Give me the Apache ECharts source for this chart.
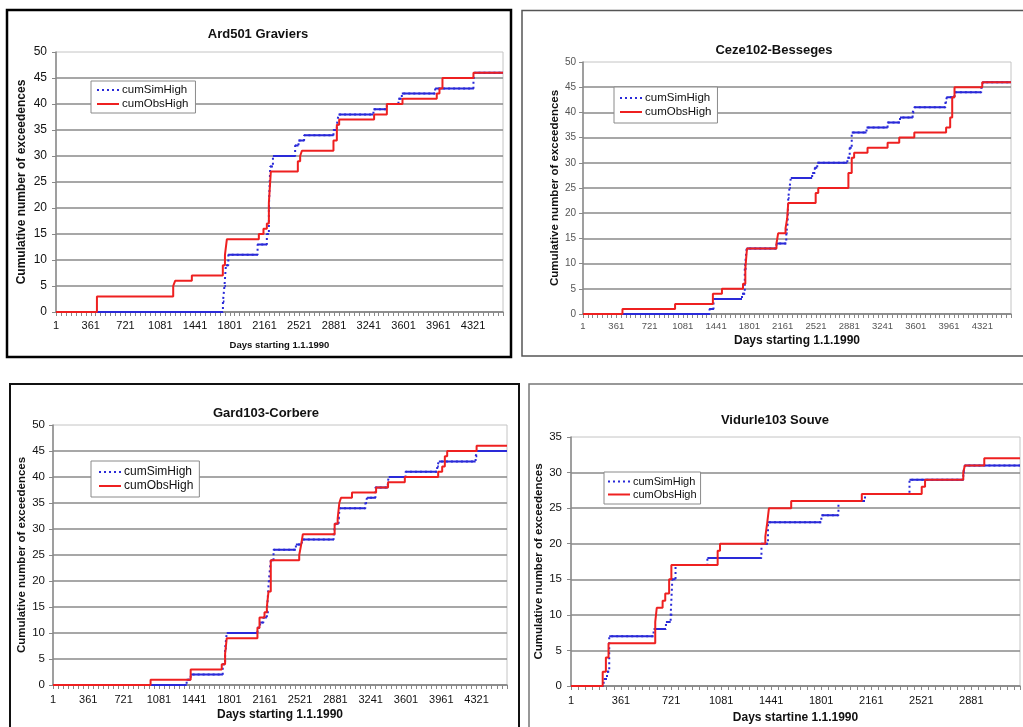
<!DOCTYPE html>
<html>
<head>
<meta charset="utf-8">
<script src="https://cdn.jsdelivr.net/npm/echarts@6/dist/echarts.min.js"></script>
<style>
html,body{margin:0;padding:0;background:#fff;overflow:hidden;}
#c{width:1023px;height:727px;}
</style>
</head>
<body>
<div id="c"></div>
<script>
// ---------- data (x = days since 1.1.1990, 0-based; y = cumulative count) ----------
const titles = ['Ard501 Graviers', 'Ceze102-Besseges', 'Gard103-Corbere', 'Vidurle103 Souve'];
const xNames = ['Days starting 1.1.1990', 'Days starting 1.1.1990', 'Days starting 1.1.1990', 'Days startine 1.1.1990'];
const yName = 'Cumulative number of exceedences';
const seriesNames = ['cumSimHigh', 'cumObsHigh'];
const xMax = [4630, 4630, 4630, 3230];
const yMax = [50, 50, 50, 35];
const xTickStep = 360;
const yTickStep = 5;

const ardSim = [[0,0],[1729,2],[1745,5],[1760,9],[1785,11],[2088,13],[2184,15],[2205,20],[2219,28],[2247,30],[2477,32],[2512,33],[2570,34],[2874,35],[2909,36],[2926,38],[3288,39],[3427,40],[3547,41],[3582,42],[3927,43],[4324,45],[4335,46],[4630,46]];
const ardObs = [[0,0],[424,3],[1214,5],[1234,6],[1407,7],[1728,9],[1750,11],[1770,14],[2101,15],[2149,16],[2184,17],[2205,21],[2225,27],[2505,29],[2529,30],[2547,31],[2874,33],[2909,36],[2933,37],[3295,38],[3427,40],[3589,41],[3944,42],[3972,43],[4003,45],[4324,46],[4630,46]];

const cezeSim = [[0,0],[1369,1],[1412,3],[1720,4],[1750,9],[1770,13],[2093,14],[2199,16],[2213,18],[2220,23],[2234,25],[2248,27],[2479,28],[2508,29],[2534,30],[2860,31],[2885,33],[2907,36],[3067,37],[3295,38],[3429,39],[3566,40],[3584,41],[3921,42],[3936,43],[4019,44],[4309,45],[4327,46],[4630,46]];
const cezeObs = [[0,0],[427,1],[996,2],[1405,4],[1503,5],[1731,6],[1756,9],[1774,13],[2093,14],[2111,16],[2191,17],[2209,19],[2220,22],[2517,24],[2545,25],[2871,28],[2907,31],[2933,32],[3078,33],[3295,34],[3421,35],[3584,36],[3928,37],[3972,39],[3994,43],[4019,45],[4319,46],[4630,46]];

const gardSim = [[0,0],[1363,1],[1404,2],[1731,4],[1755,7],[1772,10],[2085,11],[2112,12],[2146,13],[2181,14],[2201,20],[2221,24],[2249,26],[2477,27],[2538,28],[2862,29],[2879,31],[2913,32],[2923,34],[3186,35],[3203,36],[3288,38],[3414,39],[3424,40],[3595,41],[3918,42],[3935,43],[4310,44],[4327,45],[4630,45]];
const gardObs = [[0,0],[995,1],[1404,3],[1721,4],[1755,6],[1772,9],[2085,11],[2106,13],[2157,14],[2181,15],[2198,18],[2221,24],[2511,25],[2531,27],[2548,29],[2872,31],[2903,32],[2920,35],[2937,36],[3049,37],[3295,38],[3417,39],[3588,40],[3928,41],[3969,42],[3996,44],[4020,45],[4320,46],[4630,46]];

const vidSim = [[0,0],[235,1],[259,2],[275,7],[594,8],[683,9],[717,10],[729,15],[752,17],[981,18],[1370,20],[1417,23],[1801,24],[1924,26],[2115,27],[2435,29],[2822,30],[2833,31],[3230,31]];
const vidObs = [[0,0],[228,2],[251,4],[270,6],[606,9],[617,11],[659,12],[678,13],[706,15],[722,17],[1055,19],[1072,20],[1398,21],[1412,23],[1424,25],[1584,26],[2092,27],[2523,28],[2547,29],[2822,30],[2833,31],[2973,32],[3230,32]];

const simData = [ardSim, cezeSim, gardSim, vidSim];
const obsData = [ardObs, cezeObs, gardObs, vidObs];

// ---------- layout / style ----------
const FONT = '"Liberation Sans", Arial, sans-serif';
const BLUE = '#2a2ad8';
const RED = '#ee2020';
const panels = [
  {grid:{left:56, top:52, width:447, height:260}, title:[258,36], tFont:13,
   yLab:{size:12,color:'#111',margin:9}, xLab:{size:11,color:'#111',margin:8},
   yNameSize:12, yGap:28, xNameSize:9.5, xGap:28,
   legend:{left:91, top:81, size:11.5, pad:[3,7,3,5]},
   border:{x:7,y:10,w:504,h:347,c:'#000',lw:2.5}},
  {grid:{left:583, top:62, width:428, height:252}, title:[774,52], tFont:13,
   yLab:{size:10,color:'#555',margin:7}, xLab:{size:9.5,color:'#555',margin:7},
   yNameSize:11.5, yGap:21, xNameSize:12, xGap:21,
   legend:{left:614, top:87, size:11.5, pad:[5,6,5,5]},
   border:{x:522,y:10.5,w:540,h:345.5,c:'#555',lw:1.5}},
  {grid:{left:53, top:425, width:454, height:260}, title:[266,415], tFont:13,
   yLab:{size:11.5,color:'#111',margin:8}, xLab:{size:11,color:'#111',margin:9},
   yNameSize:11.5, yGap:21, xNameSize:12, xGap:24,
   legend:{left:91, top:461, size:12, pad:[5,6,5,7]},
   border:{x:10,y:384,w:509,h:400,c:'#111',lw:2}},
  {grid:{left:571, top:437, width:462, height:249}, title:[775,422], tFont:13,
   yLab:{size:11.5,color:'#111',margin:9}, xLab:{size:11,color:'#111',margin:9},
   yNameSize:11.5, yGap:16, xNameSize:12, xGap:26,
   legend:{left:604, top:472, size:11, pad:[4,4,4,3]},
   border:{x:529,y:384,w:520,h:400,c:'#777',lw:1.5}}
];

function horizontals(pts) {
  const out = [];
  for (let i = 0; i < pts.length - 1; i++) {
    out.push([pts[i][0], pts[i][1]]);
    out.push([pts[i + 1][0], pts[i][1]]);
    out.push([pts[i + 1][0], '-']);
  }
  return out;
}

const option = {
  animation: false,
  backgroundColor: '#fff',
  title: [], legend: [], grid: [], xAxis: [], yAxis: [], series: [], graphic: []
};

panels.forEach((p, i) => {
  option.graphic.push({type:'rect', silent:true, z:100,
    shape:{x:p.border.x, y:p.border.y, width:p.border.w, height:p.border.h},
    style:{fill:'none', stroke:p.border.c, lineWidth:p.border.lw}});
  option.title.push({text: titles[i], left: p.title[0], top: p.title[1] - 8, textAlign:'center', padding:0,
    textStyle:{fontFamily:FONT, fontSize:p.tFont, fontWeight:'bold', color:'#111'}});
  option.grid.push(Object.assign({show:true, borderColor:'#c4c4c4', borderWidth:1, backgroundColor:'transparent'}, p.grid));
  option.xAxis.push({
    gridIndex:i, type:'value', min:0, max:xMax[i], interval:xTickStep,
    name: xNames[i], nameLocation:'middle', nameGap:p.xGap,
    nameTextStyle:{fontFamily:FONT, fontSize:p.xNameSize, fontWeight:'bold', color:'#111'},
    axisLine:{show:true, onZero:false, lineStyle:{color:'#888', width:1.5}},
    axisTick:{show:true, length:4, lineStyle:{color:'#888'}},
    minorTick:{show:true, splitNumber:7, length:4, lineStyle:{color:'#888'}},
    splitLine:{show:false},
    axisLabel:{fontFamily:FONT, fontSize:p.xLab.size, color:p.xLab.color, margin:p.xLab.margin,
      formatter: v => (v % xTickStep === 0 && v + xTickStep / 2 < xMax[i]) ? String(v + 1) : ''}
  });
  option.yAxis.push({
    gridIndex:i, type:'value', min:0, max:yMax[i], interval:yTickStep,
    name: yName, nameLocation:'middle', nameGap:p.yGap, nameRotate:90,
    nameTextStyle:{fontFamily:FONT, fontSize:p.yNameSize, fontWeight:'bold', color:'#111'},
    axisLine:{show:true, lineStyle:{color:'#888', width:1.5}},
    axisTick:{show:true, length:4, lineStyle:{color:'#888'}},
    splitLine:{show:true, showMaxLine:false, lineStyle:{color:'#8a8a8a', width:1.5}},
    axisLabel:{fontFamily:FONT, fontSize:p.yLab.size, color:p.yLab.color, margin:p.yLab.margin}
  });
  option.legend.push({
    data: seriesNames, orient:'vertical', left:p.legend.left, top:p.legend.top,
    padding:p.legend.pad, itemGap:2, itemWidth:22, itemHeight:10, selectedMode:false,
    itemStyle:{opacity:0},
    backgroundColor:'#fff', borderColor:'#8a8a8a', borderWidth:1, borderRadius:0,
    textStyle:{fontFamily:FONT, fontSize:p.legend.size, color:'#111', padding:[0,0,0,-2]}
  });
  option.series.push({
    name: seriesNames[0], type:'line', xAxisIndex:i, yAxisIndex:i, step:'end', symbol:'none', silent:true,
    data: simData[i], lineStyle:{color:BLUE, width:2, type:[2,3]}, itemStyle:{color:BLUE}
  });
  option.series.push({
    name: seriesNames[0], type:'line', xAxisIndex:i, yAxisIndex:i, symbol:'none', silent:true,
    data: horizontals(simData[i]), connectNulls:false, lineStyle:{color:BLUE, width:2}, itemStyle:{color:BLUE}
  });
  option.series.push({
    name: seriesNames[1], type:'line', xAxisIndex:i, yAxisIndex:i, step:'end', symbol:'none', silent:true,
    data: obsData[i], lineStyle:{color:RED, width:2}, itemStyle:{color:RED}
  });
});

const chart = echarts.init(document.getElementById('c'), null, {renderer:'canvas'});
chart.setOption(option);
</script>
</body>
</html>
